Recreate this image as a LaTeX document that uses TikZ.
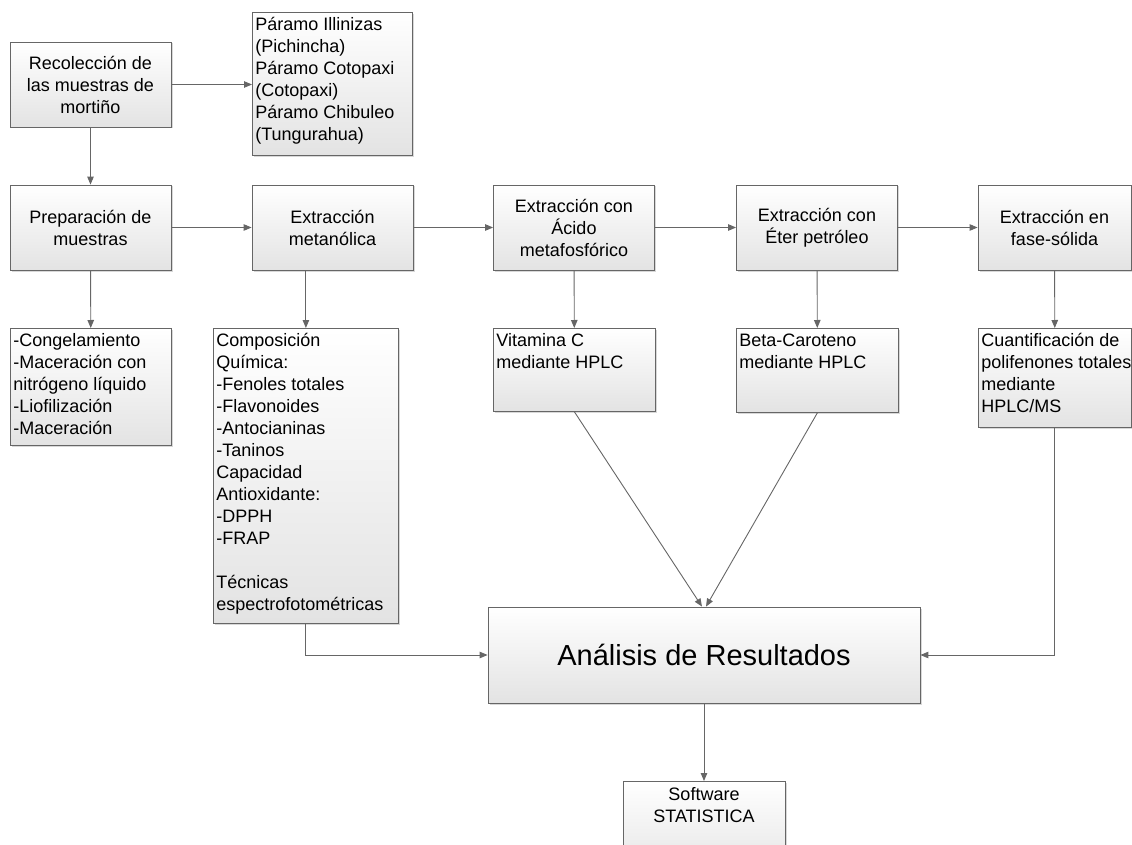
\documentclass[tikz,border=0pt]{standalone}
\usepackage{fontspec}
\setmainfont{Liberation Sans}
\usetikzlibrary{arrows.meta, shadows}
\newcommand{\boxtext}[3]{\parbox[t][#2][t]{#1}{\begin{tabular}[t]{@{}l@{}}#3\end{tabular}}}

\begin{document}
\begin{tikzpicture}[x=1pt,y=-1pt,-{Triangle[length=8pt,width=6.5pt]},draw=black!60,line width=0.9pt]
    \tikzstyle{every node}=[font=\fontsize{18}{22}\selectfont]
    \tikzstyle{box}=[rectangle, draw=black!60, line width=0.8pt, top color=white, bottom color=black!11,
        drop shadow={shadow xshift=1.5pt, shadow yshift=-1.5pt, fill=black!30}]
    \tikzstyle{proc}=[box, minimum width=161pt, minimum height=85pt, align=center, inner sep=2pt]
    \tikzstyle{note}=[box, anchor=north west, inner xsep=3pt, inner ysep=3pt]

    \useasboundingbox (0,0) rectangle (1132,845);
    \clip (0,0) rectangle (1132,845);

    % Draw the first step and the places
    \node[proc] (rec) at (90.5,84.5) {Recolección de\\las muestras de\\mortiño};
    \node[note] (par) at (252,12) {\boxtext{154pt}{137pt}{Páramo Illinizas\\(Pichincha)\\Páramo Cotopaxi\\(Cotopaxi)\\Páramo Chibuleo\\(Tungurahua)}};

    % Draw the row of extractions
    \node[proc] (prep) at (90.5,227.5) {Preparación de\\muestras};
    \node[proc] (met) at (332.5,227.5) {Extracción\\metanólica};
    \node[proc] (aci) at (574,227.5) {Extracción con\\Ácido\\metafosfórico};
    \node[proc] (eter) at (817,227.5) {Extracción con\\Éter petróleo};
    \node[proc, minimum width=153pt] (fase) at (1054.5,227.5) {Extracción en\\fase-sólida};

    % Draw the details under each step
    \node[note] (cong) at (10,328) {\boxtext{155pt}{111pt}{-Congelamiento\\-Maceración con\\nitrógeno líquido\\-Liofilización\\-Maceración}};
    \node[note] (comp) at (213,328) {\boxtext{179pt}{289pt}{Composición\\Química:\\-Fenoles totales\\-Flavonoides\\-Antocianinas\\-Taninos\\Capacidad\\Antioxidante:\\-DPPH\\-FRAP\\ \\Técnicas\\espectrofotométricas}};
    \node[note] (vit) at (493,328) {\boxtext{156pt}{77pt}{Vitamina C\\mediante HPLC}};
    \node[note] (beta) at (736,328) {\boxtext{156pt}{78pt}{Beta-Caroteno\\mediante HPLC}};
    \node[note] (cuan) at (978,328) {\boxtext{147pt}{93pt}{Cuantificación de\\polifenones totales\\mediante\\HPLC/MS}};

    % Draw the results
    \node[proc, minimum width=432pt, minimum height=96pt, font=\fontsize{29}{34}\selectfont] (ana) at (704,655) {Análisis de Resultados};
    \node[box, anchor=north, inner xsep=2pt, inner ysep=4pt] (soft) at (704,781) {\parbox[t][90pt][t]{158pt}{\centering\begin{tabular}[t]{@{}c@{}}Software\\STATISTICA\end{tabular}}};

    \draw (rec) -- (rec -| par.west);
    \draw (rec) -- (prep);
    \foreach \a / \b in {prep/met, met/aci, aci/eter, eter/fase}
        \draw (\a) -- (\b);
    \foreach \a / \b in {prep/cong, aci/vit, eter/beta, fase/cuan}
        \draw (\a) -- (\b);
    \draw (met.south -| comp.north) -- (comp.north);
    \draw (comp.south) |- (ana.west);
    \draw (cuan.south) |- (ana.east);
    \draw (vit.south) -- ([xshift=-2pt]ana.north);
    \draw (beta.south) -- ([xshift=2pt]ana.north);
    \draw (ana) -- (soft);
\end{tikzpicture}
\end{document}
